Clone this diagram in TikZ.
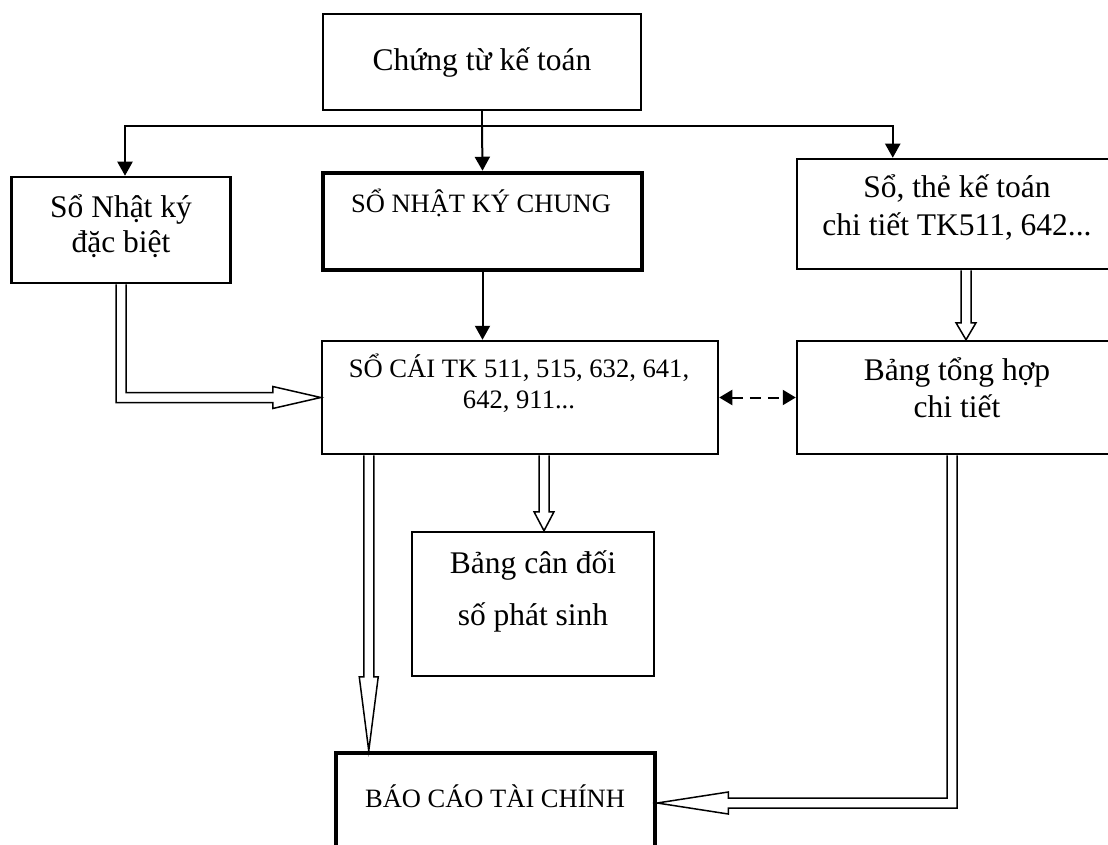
\documentclass[tikz,border=0pt]{standalone}
\usepackage{fontspec}
\setmainfont{Liberation Serif}
\usetikzlibrary{arrows.meta}
\usetikzlibrary{calc}
\tikzset{
	box/.style={draw,line width=2.5pt,inner sep=0pt},
	heavy box/.style={box,line width=4.5pt},
	txt/.style={inner sep=0pt,anchor=base,align=center,font=\fontsize{31.5}{37}\selectfont},
	cap txt/.style={txt,font=\fontsize{26.5}{31}\selectfont},
	edge/.style={-{Triangle[length=14pt,width=15pt]},line width=2pt},
	dash edge/.style={{Triangle[length=13pt,width=15pt]}-{Triangle[length=13pt,width=15pt]},line width=2pt,dash pattern=on 11pt off 7pt},
	block/.style={line width=1.5pt,line join=miter}
}
% hollow block arrow pointing down: start, tip, head length, head half width
\newcommand{\downblock}[4]{%
	\draw[block] ($(#1)+(-5,0)$) -- ($(#2)+(-5,-#3)$) -- ($(#2)+(-#4,-#3)$) -- (#2)
		-- ($(#2)+(#4,-#3)$) -- ($(#2)+(5,-#3)$) -- ($(#1)+(5,0)$);}

\begin{document}
\begin{tikzpicture}[x=1pt,y=-1pt]
	\useasboundingbox (0,0) rectangle (1108,845);
	\clip (0,0) rectangle (1108,845);
	
	% boxes
	\node[box,minimum width=318pt,minimum height=96pt] (ct) at (482,62) {};
	\node[box,minimum width=219pt,minimum height=106pt] (nk) at (121,230) {};
	\node[heavy box,minimum width=319pt,minimum height=97pt] (nkc) at (482.5,221.5) {};
	\node[box,minimum width=322pt,minimum height=110pt] (stc) at (958,214) {};
	\node[box,minimum width=396pt,minimum height=113pt] (sc) at (520,397.5) {};
	\node[box,minimum width=322pt,minimum height=113pt] (bth) at (958,397.5) {};
	\node[box,minimum width=242pt,minimum height=144pt] (bcd) at (533,604) {};
	\node[heavy box,minimum width=319pt,minimum height=100pt] (bc) at (495.5,803) {};
	
	% texts (base = last line)
	\node[txt] (ct-t) at (482,71) {Chứng từ kế toán};
	\node[txt,font=\fontsize{31.5}{35}\selectfont] (nk-t) at (121,252) {Sổ Nhật ký\\đặc biệt};
	\node[cap txt] (nkc-t) at (481,212) {SỔ NHẬT KÝ CHUNG};
	\node[txt] (stc-t) at (957,235) {Sổ, thẻ kế toán\\chi tiết TK511, 642...};
	\node[cap txt,font=\fontsize{26.6}{31}\selectfont] (sc-t) at (519,408) {SỔ CÁI TK 511, 515, 632, 641,\\642, 911...};
	\node[txt] (bth-t) at (957,417) {Bảng tổng hợp\\chi tiết};
	\node[txt,font=\fontsize{31.5}{52}\selectfont] (bcd-t) at (533,625) {Bảng cân đối\\số phát sinh};
	\node[cap txt] (bc-t) at (495,807) {BÁO CÁO TÀI CHÍNH};
	
	% single arrows
	\coordinate (split) at (482,126);
	\draw[line width=2pt] (ct.south) -- (split);
	\draw[edge] (split) -| ([xshift=4pt]nk.north);
	\draw[edge] (split) -- (nkc.north);
	\draw[edge] (split) -| ([xshift=97pt]stc.north west);
	\draw[edge] (nkc.south) -- (nkc.south |- sc.north);
	\draw[dash edge] (sc.east) -- (bth.west);
	
	% block arrows
	\coordinate (a1) at ([xshift=8pt]stc.south);
	\coordinate (a2) at ([xshift=8pt]bth.north);
	\downblock{a1}{a2}{17}{10}
	\coordinate (b2) at ([xshift=11pt]bcd.north);
	\coordinate (b1) at (b2 |- sc.south);
	\downblock{b1}{b2}{19}{10}
	\coordinate (c1) at ([xshift=48pt]sc.south west);
	\coordinate (c2) at (c1 |- bc.north);
	\downblock{c1}{c2}{74}{9.5}
	
	\draw[block] ($(nk.south)+(-5,0)$) |- ($(sc.west)+(-48,5)$) -- ($(sc.west)+(-48,11)$) -- (sc.west)
		-- ($(sc.west)+(-48,-11)$) -- ($(sc.west)+(-48,-5)$) -| ($(nk.south)+(5,0)$);
	\coordinate (d1) at ([xshift=-6pt]bth.south);
	\draw[block] ($(d1)+(5,0)$) |- ($(bc.east)+(71,5)$) -- ($(bc.east)+(71,11)$) -- (bc.east)
		-- ($(bc.east)+(71,-11)$) -- ($(bc.east)+(71,-5)$) -| ($(d1)+(-5,0)$);
\end{tikzpicture}
\end{document}
